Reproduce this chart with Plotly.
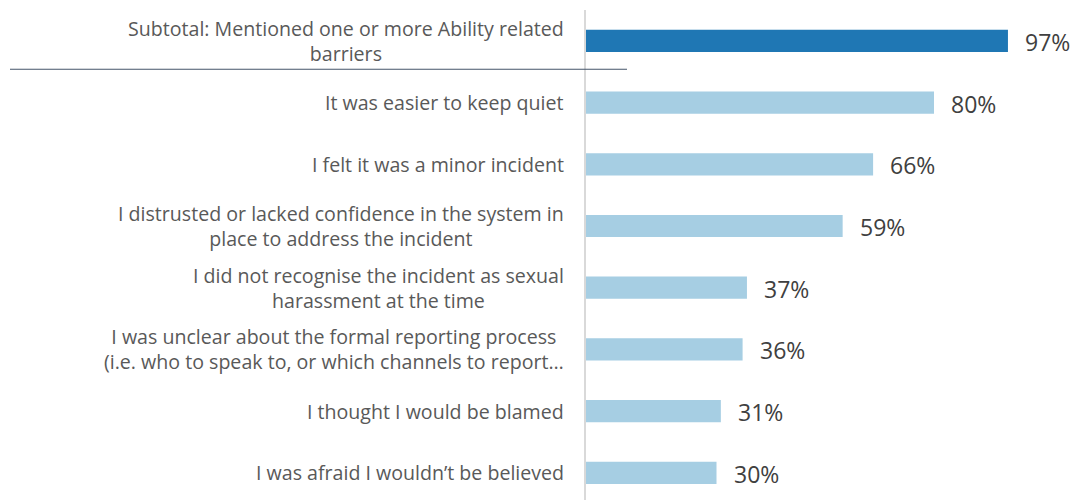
import plotly.graph_objects as go

categories = [
    "Subtotal: Mentioned one or more Ability related<br>barriers",
    "It was easier to keep quiet",
    "I felt it was a minor incident",
    "I distrusted or lacked confidence in the system in<br>place to address the incident",
    "I did not recognise the incident as sexual<br>harassment at the time",
    "I was unclear about the formal reporting process<br>(i.e. who to speak to, or which channels to report…",
    "I thought I would be blamed",
    "I was afraid I wouldn’t be believed",
]
values = [97, 80, 66, 59, 37, 36, 31, 30]
colors = ["#1F77B4"] + ["#A6CEE3"] * 7

idx = list(range(len(categories)))
fig = go.Figure()
fig.add_trace(go.Bar(
    x=values, y=idx, orientation="h",
    marker=dict(color=colors, line=dict(width=0)),
    width=0.36, hoverinfo="skip",
))

FONT = "Open Sans"
ann = []
for i, (c, v) in enumerate(zip(categories, values)):
    ann.append(dict(x=0, y=i, xref="x", yref="y", text=c, showarrow=False,
                    xanchor="right", yanchor="middle", align="center", xshift=-20,
                    font=dict(family=FONT, size=19.6, color="#595959")))
    ann.append(dict(x=v, y=i, xref="x", yref="y", text=f"{v}%", showarrow=False,
                    xanchor="left", yanchor="middle", xshift=15, yshift=-1,
                    font=dict(family=FONT, size=23, color="#404040")))

fig.update_layout(
    width=1073, height=500,
    margin=dict(l=586, r=52, t=10, b=0),
    plot_bgcolor="white", paper_bgcolor="white",
    showlegend=False,
    annotations=ann,
    xaxis=dict(range=[0, 100], visible=False, fixedrange=True),
    yaxis=dict(range=[7.44, -0.5], showticklabels=False, showgrid=False,
               zeroline=False, showline=True, linecolor="#D9D9D9", linewidth=2,
               fixedrange=True),
    shapes=[dict(type="line", xref="paper", yref="y",
                 x0=(10 - 586) / 435, x1=(627 - 586) / 435, y0=0.46, y1=0.46,
                 line=dict(color="#44546A", width=1.2))],
)

fig.write_html("out.html", config={"displayModeBar": False},
               post_script="document.body.style.margin='0';document.body.style.overflow='hidden';")
